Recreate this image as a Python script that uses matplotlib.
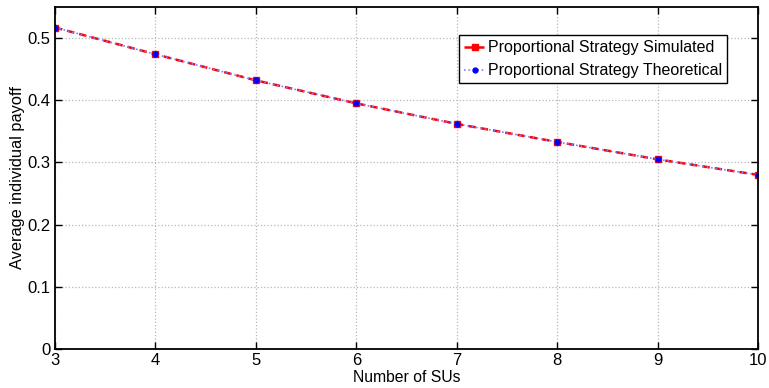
import matplotlib
matplotlib.use("Agg")
import matplotlib.pyplot as plt

plt.rcParams['font.family'] = ['Liberation Sans', 'DejaVu Sans']

num_sus = [3, 4, 5, 6, 7, 8, 9, 10]
simulated = [0.517, 0.474, 0.432, 0.395, 0.362, 0.333, 0.305, 0.280]
theoretical = [0.517, 0.474, 0.432, 0.395, 0.362, 0.333, 0.305, 0.280]
xticks = [3, 4, 5, 6, 7, 8, 9, 10]
yticks = [0, 0.1, 0.2, 0.3, 0.4, 0.5]

fig = plt.figure(figsize=(7.69, 3.88), dpi=100)
ax = fig.add_axes([0.0715, 0.1005, 0.9142, 0.8815])

ax.plot(num_sus, simulated, linestyle='--', color='#ff0000', linewidth=1.8,
        marker='s', markersize=5, markerfacecolor='#ff0000', markeredgecolor='#ff0000',
        dashes=(3, 2), label='Proportional Strategy Simulated')
ax.plot(num_sus, theoretical, linestyle=':', color='#8080ff', linewidth=1.2,
        marker='o', markersize=3.5, markerfacecolor='#0000ff', markeredgecolor='#0000ff',
        label='Proportional Strategy Theoretical')

ax.set_xlim(3, 10)
ax.set_ylim(0, 0.55)
ax.set_xticks(xticks)
ax.set_yticks(yticks)
ax.set_yticklabels(['0', '0.1', '0.2', '0.3', '0.4', '0.5'])
ax.grid(True, linestyle=':', color='#b8b8b8', linewidth=0.9)
ax.tick_params(direction='in', top=True, right=True, labelsize=12, length=5, width=1, pad=3)
for s in ax.spines.values():
    s.set_linewidth(1.3)

ax.set_xlabel('Number of SUs', fontsize=11.3, labelpad=1)
ax.set_ylabel('Average individual payoff', fontsize=11.8, labelpad=2)

leg = ax.legend(loc='upper right', bbox_to_anchor=(0.956, 0.917), fontsize=11.5,
                frameon=True, fancybox=False, edgecolor='black', framealpha=1,
                handlelength=1.3, handletextpad=0.2, borderpad=0.3, labelspacing=0.5,
                borderaxespad=0)
leg.get_frame().set_linewidth(1.0)

fig.savefig('out.png', dpi=100)
